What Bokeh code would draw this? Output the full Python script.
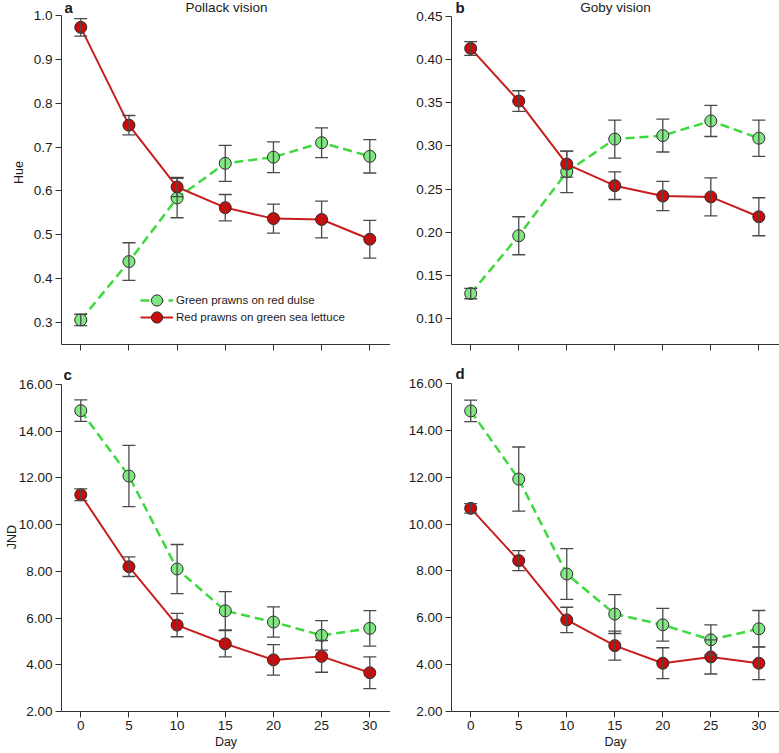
from bokeh.plotting import figure
from bokeh.models import (ColumnDataSource, Whisker, TeeHead, Label, Legend, LegendItem,
                          FixedTicker, PrintfTickFormatter, Range1d, CustomLabelingPolicy)
from bokeh.layouts import gridplot
from bokeh.embed import file_html
from bokeh.resources import INLINE

# ---------------- data ----------------
days = [0, 5, 10, 15, 20, 25, 30]
day_ticks = [0, 5, 10, 15, 20, 25, 30]

# Hue, pollack vision (panel a)
hue_pollack_green = [0.306, 0.439, 0.584, 0.663, 0.677, 0.710, 0.679]
hue_pollack_green_err = [0.013, 0.043, 0.045, 0.041, 0.035, 0.034, 0.038]
hue_pollack_red = [0.973, 0.750, 0.609, 0.562, 0.537, 0.535, 0.490]
hue_pollack_red_err = [0.020, 0.022, 0.022, 0.030, 0.033, 0.042, 0.043]

# Hue, goby vision (panel b)
hue_goby_green = [0.129, 0.196, 0.270, 0.308, 0.312, 0.329, 0.309]
hue_goby_green_err = [0.006, 0.022, 0.024, 0.022, 0.019, 0.018, 0.021]
hue_goby_red = [0.413, 0.352, 0.279, 0.254, 0.242, 0.241, 0.218]
hue_goby_red_err = [0.008, 0.012, 0.015, 0.016, 0.017, 0.022, 0.022]

# JND, pollack vision (panel c)
jnd_pollack_green = [14.88, 12.08, 8.10, 6.31, 5.83, 5.26, 5.56]
jnd_pollack_green_err = [0.46, 1.31, 1.05, 0.82, 0.65, 0.63, 0.76]
jnd_pollack_red = [11.28, 8.20, 5.70, 4.90, 4.21, 4.36, 3.66]
jnd_pollack_red_err = [0.25, 0.42, 0.50, 0.56, 0.65, 0.68, 0.68]

# JND, goby vision (panel d)
jnd_goby_green = [14.83, 11.92, 7.87, 6.16, 5.70, 5.06, 5.53]
jnd_goby_green_err = [0.46, 1.37, 1.08, 0.83, 0.70, 0.64, 0.78]
jnd_goby_red = [10.67, 8.44, 5.91, 4.81, 4.06, 4.33, 4.06]
jnd_goby_red_err = [0.20, 0.43, 0.54, 0.62, 0.66, 0.73, 0.70]

hue_ticks_a = [0.3, 0.4, 0.5, 0.6, 0.7, 0.8, 0.9, 1.0]
hue_ticks_b = [0.10, 0.15, 0.20, 0.25, 0.30, 0.35, 0.40, 0.45]
jnd_ticks = [2, 4, 6, 8, 10, 12, 14, 16]
hue_bounds_a = (0.25, 1.0)
hue_bounds_b = (0.07, 0.45)
jnd_bounds = (2, 16)

label_green = "Green prawns on red dulse"
label_red = "Red prawns on green sea lettuce"

# ---------------- styles ----------------
FONT = "Liberation Sans"
GREEN_LINE = "#3fd83f"
GREEN_FILL = "#80e880"
RED_LINE = "#c81e1e"
RED_FILL = "#cc0a0a"
EDGE = "#2a2a2a"
ERR = "#4a4a4a"
AXIS = "#333333"
TXT = "#1a1a1a"


def make_fig(width, height, bottom, axis_top_px, bounds, yticks, yfmt, show_x, ylabel, ylabel_standoff):
    frame_h = height - bottom
    lo, hi = bounds
    # extend the range above the axis so panel texts can sit in the frame
    top = hi + axis_top_px * (hi - lo) / (frame_h - axis_top_px)
    p = figure(width=width, height=height, output_backend="svg", toolbar_location=None,
               x_range=Range1d(-2, 32.15), y_range=Range1d(lo, top),
               min_border_left=61, min_border_right=0,
               min_border_top=0, min_border_bottom=bottom)
    p.outline_line_color = None
    p.xgrid.visible = False
    p.ygrid.visible = False
    for ax in (p.xaxis[0], p.yaxis[0]):
        ax.axis_line_color = AXIS
        ax.major_tick_line_color = AXIS
        ax.minor_tick_line_color = None
        ax.major_tick_out = 6
        ax.major_tick_in = 0
        ax.major_label_text_font = FONT
        ax.major_label_text_color = TXT
        ax.axis_label_text_font = FONT
        ax.axis_label_text_font_style = "normal"
        ax.axis_label_text_color = TXT
        ax.axis_label_text_font_size = "12.5px"
    p.yaxis.bounds = bounds
    p.xaxis.ticker = FixedTicker(ticks=day_ticks)
    p.yaxis.ticker = FixedTicker(ticks=yticks)
    p.yaxis.formatter = PrintfTickFormatter(format=yfmt)
    p.yaxis.major_label_text_font_size = "13.5px"
    p.yaxis.major_label_standoff = 3
    if ylabel:
        p.yaxis.axis_label = ylabel
        p.yaxis.axis_label_standoff = ylabel_standoff
    if show_x:
        p.xaxis.major_label_text_font_size = "13.5px"
        p.xaxis.major_label_standoff = 3
        p.xaxis.axis_label = "Day"
        p.xaxis.axis_label_standoff = 2
    else:
        p.xaxis.major_label_text_font_size = "0px"
        p.xaxis.major_label_standoff = 0
        p.xaxis.major_label_policy = CustomLabelingPolicy(code="return []")
    return p


def add_series(p, ys, errs, line_color, fill_color, dash):
    lower = [y - e for y, e in zip(ys, errs)]
    upper = [y + e for y, e in zip(ys, errs)]
    src = ColumnDataSource(dict(x=days, y=ys, lower=lower, upper=upper))
    ln = p.line("x", "y", source=src, line_color=line_color, line_width=2.5 if dash else 2,
                line_dash=dash if dash else "solid")
    w = Whisker(source=src, base="x", upper="upper", lower="lower", dimension="height",
                line_color=ERR, line_width=1.3,
                upper_head=TeeHead(size=13, line_color=ERR, line_width=1.3),
                lower_head=TeeHead(size=13, line_color=ERR, line_width=1.3))
    w.level = "glyph"
    p.add_layout(w)
    sc = p.scatter("x", "y", source=src, size=12, marker="circle",
                   fill_color=fill_color, line_color=EDGE, line_width=1)
    return ln, sc


def add_text(p, text, x, y, size, bold=False, align="left"):
    p.add_layout(Label(x=x, y=y, x_units="screen", y_units="screen", text=text,
                       text_font=FONT, text_font_size=size,
                       text_font_style="bold" if bold else "normal",
                       text_color=TXT, text_align=align, text_baseline="alphabetic"))


# ---------------- panels ----------------
TOP_H, BOT_H = 362, 391
LW, RW = 390, 389
TOP_BOTTOM, BOT_BOTTOM = 18, 42

pa = make_fig(LW, TOP_H, TOP_BOTTOM, 15, hue_bounds_a, hue_ticks_a, "%.1f", False, "Hue", 5)
ga = add_series(pa, hue_pollack_green, hue_pollack_green_err, GREEN_LINE, GREEN_FILL, "9 5")
ra = add_series(pa, hue_pollack_red, hue_pollack_red_err, RED_LINE, RED_FILL, None)

pb = make_fig(RW, TOP_H, TOP_BOTTOM, 16, hue_bounds_b, hue_ticks_b, "%.2f", False, None, 0)
add_series(pb, hue_goby_green, hue_goby_green_err, GREEN_LINE, GREEN_FILL, "9 5")
add_series(pb, hue_goby_red, hue_goby_red_err, RED_LINE, RED_FILL, None)

pc = make_fig(LW, BOT_H, BOT_BOTTOM, 22, jnd_bounds, jnd_ticks, "%.2f", True, "JND", -3)
add_series(pc, jnd_pollack_green, jnd_pollack_green_err, GREEN_LINE, GREEN_FILL, "9 5")
add_series(pc, jnd_pollack_red, jnd_pollack_red_err, RED_LINE, RED_FILL, None)

pd_ = make_fig(RW, BOT_H, BOT_BOTTOM, 21, jnd_bounds, jnd_ticks, "%.2f", True, None, 0)
add_series(pd_, jnd_goby_green, jnd_goby_green_err, GREEN_LINE, GREEN_FILL, "9 5")
add_series(pd_, jnd_goby_red, jnd_goby_red_err, RED_LINE, RED_FILL, None)

# legend in panel a (one legend per row so rows sit close together)
for item, ypos in ((LegendItem(label=label_green, renderers=list(ga)), 30),
                   (LegendItem(label=label_red, renderers=list(ra)), 13)):
    lg = Legend(items=[item], location=(79, ypos), orientation="vertical",
                glyph_width=33, glyph_height=28, label_height=17, spacing=0,
                padding=0, margin=0, label_standoff=3,
                label_text_font=FONT, label_text_font_size="11.5px", label_text_color=TXT,
                border_line_color=None, background_fill_alpha=0)
    pa.add_layout(lg, "center")

# titles and panel letters (screen units relative to the frame's bottom-left)
top_fh = TOP_H - TOP_BOTTOM
bot_fh = BOT_H - BOT_BOTTOM
add_text(pa, "Pollack vision", 165, top_fh - 7, "13.5px", align="center")
add_text(pb, "Goby vision", 164, top_fh - 7, "13.5px", align="center")
add_text(pa, "a", 3, top_fh - 7, "15px", bold=True)
add_text(pb, "b", 4, top_fh - 7, "15px", bold=True)
add_text(pc, "c", 2, bot_fh - 11.5, "15px", bold=True)
add_text(pd_, "d", 4, bot_fh - 11, "15px", bold=True)

grid = gridplot([[pa, pb], [pc, pd_]], toolbar_location=None)

open("out.html", "w").write(file_html(grid, INLINE))
